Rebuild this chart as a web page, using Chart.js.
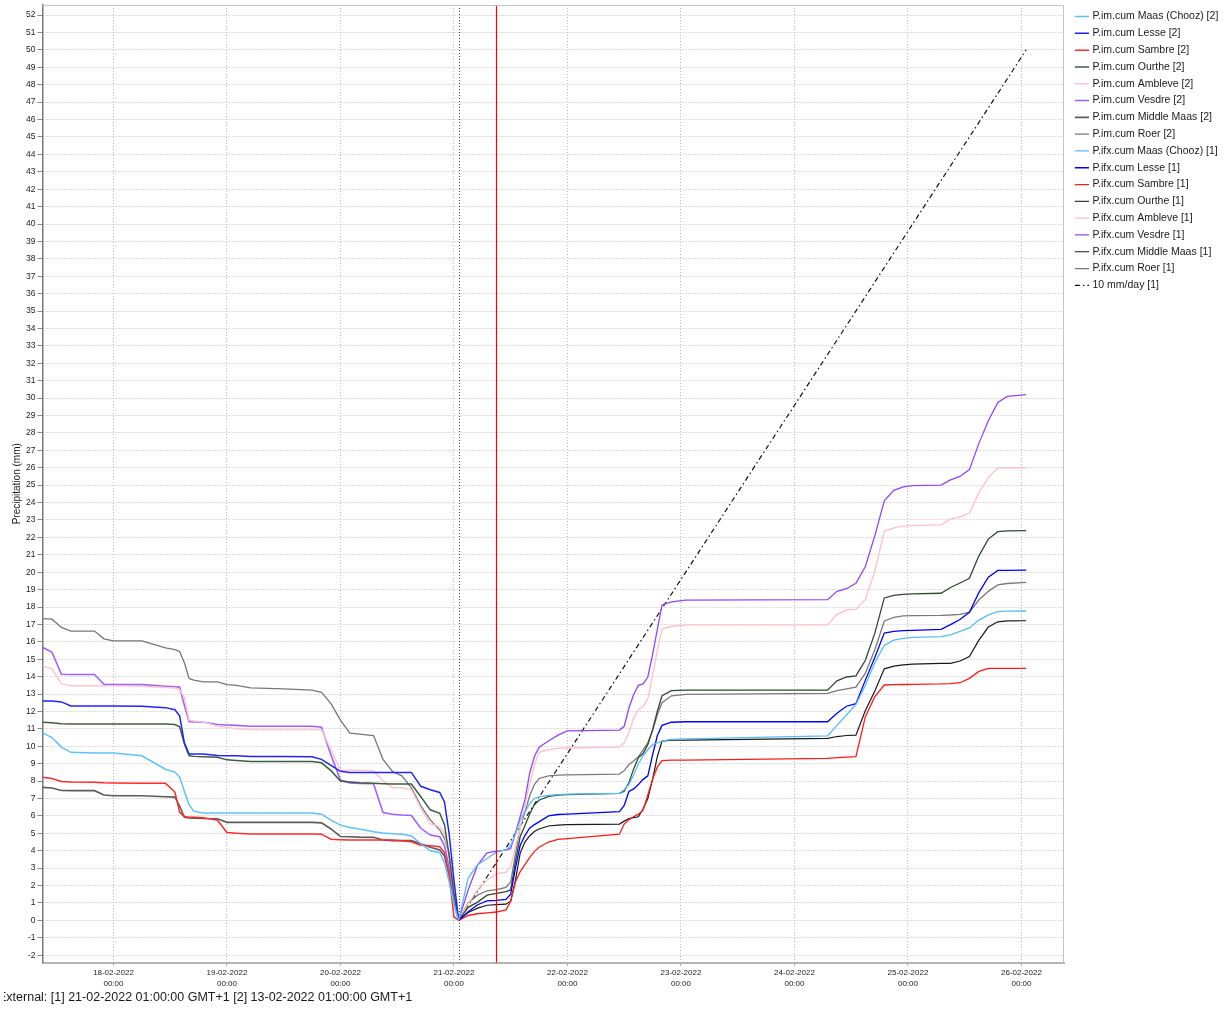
<!DOCTYPE html>
<html>
<head>
<meta charset="utf-8">
<script src="https://cdn.jsdelivr.net/npm/chart.js@4.4.1/dist/chart.umd.min.js"></script>
<style>
html,body{margin:0;padding:0;background:#ffffff;overflow:hidden;}
#wrap{position:relative;width:1230px;height:1009px;overflow:hidden;}
#c{position:absolute;left:0;top:0;}
#extclip{position:absolute;left:4px;top:988px;width:600px;height:20px;overflow:hidden;}
#ext{position:absolute;left:-6px;top:2px;font:12.5px "Liberation Sans",Arial,sans-serif;color:#1a1a1a;white-space:nowrap;}
</style>
</head>
<body>
<div id="wrap">
<canvas id="c" width="1230" height="1009"></canvas>
<div id="extclip"><div id="ext">External: [1] 21-02-2022 01:00:00 GMT+1 [2] 13-02-2022 01:00:00 GMT+1</div></div>
</div>
<script>
// Time axis: hours since 17-02-2022 00:00
const xTickHours = [24, 48, 72, 96, 120, 144, 168, 192, 216];
const xTickDates = ['18-02-2022','19-02-2022','20-02-2022','21-02-2022','22-02-2022','23-02-2022','24-02-2022','25-02-2022','26-02-2022'];
const xTickTime = '00:00';
const forecastStartHour = 97;   // 21-02-2022 01:00
const nowHour = 105;            // 21-02-2022 09:00
const yTickFirst = -2, yTickLast = 52;

// Observed cumulative series [2] (hours)
const hoursObs = [9, 11, 13, 15, 20, 22, 24, 30, 35, 37, 38, 39, 40, 41, 43, 46, 48, 50, 53, 60, 66, 68, 70, 72, 74, 76, 79, 81, 83, 85, 87, 89, 91, 93, 94, 95, 96, 97];
const imMaas       = [10.77,10.5,9.95,9.65,9.62,9.62,9.62,9.45,8.68,8.52,8.23,7.41,6.65,6.26,6.17,6.17,6.17,6.17,6.17,6.17,6.17,6.1,5.76,5.47,5.33,5.25,5.09,5.02,4.98,4.95,4.85,4.4,4.0,3.9,3.3,2.2,0.9,0];
const imLesse      = [12.6,12.6,12.55,12.32,12.32,12.32,12.32,12.3,12.22,12.1,11.75,10.2,9.56,9.56,9.55,9.47,9.46,9.45,9.42,9.42,9.4,9.25,8.9,8.56,8.5,8.5,8.5,8.5,8.5,8.5,8.5,7.7,7.5,7.35,6.8,4.95,2.3,0];
const imSambre     = [8.22,8.15,7.98,7.95,7.93,7.9,7.89,7.88,7.87,7.37,6.2,5.97,5.92,5.92,5.9,5.75,5.05,5.0,4.96,4.96,4.96,4.95,4.66,4.63,4.61,4.61,4.61,4.61,4.61,4.58,4.52,4.32,4.28,4.23,3.9,2.6,0.2,0];
const imOurthe     = [11.38,11.35,11.3,11.28,11.28,11.28,11.28,11.28,11.28,11.25,11.12,10.15,9.45,9.42,9.4,9.37,9.22,9.18,9.12,9.12,9.12,9.05,8.6,8.0,7.95,7.9,7.87,7.85,7.83,7.83,7.83,7.1,6.35,6.15,5.5,3.7,1.5,0];
const imAmbleve    = [14.62,14.45,13.6,13.47,13.47,13.47,13.47,13.45,13.38,13.35,13.25,12.8,11.5,11.45,11.4,11.15,11.1,11.0,10.96,10.96,10.96,10.95,9.8,8.63,8.63,8.63,8.6,8.0,7.62,7.62,7.5,6.45,5.55,5.38,5.0,3.65,1.5,0];
const imVesdre     = [15.69,15.4,14.14,14.12,14.12,13.56,13.54,13.54,13.45,13.42,13.4,12.35,11.42,11.4,11.38,11.25,11.22,11.2,11.15,11.15,11.15,11.1,9.5,8.06,7.9,7.87,7.85,6.2,6.1,6.05,6.02,5.29,4.9,4.8,4.3,3.0,1.3,0];
const imMiddleMaas = [7.64,7.6,7.46,7.45,7.45,7.2,7.16,7.16,7.1,7.08,6.57,5.92,5.88,5.87,5.85,5.84,5.63,5.63,5.63,5.63,5.63,5.6,5.25,4.82,4.8,4.78,4.77,4.62,4.58,4.58,4.58,4.4,4.2,4.05,3.7,2.6,1.0,0];
const imRoer       = [17.33,17.3,16.83,16.62,16.62,16.17,16.06,16.06,15.65,15.55,15.45,14.8,13.9,13.8,13.7,13.7,13.54,13.5,13.36,13.3,13.23,13.1,12.45,11.5,10.75,10.7,10.62,9.25,8.55,8.3,7.61,6.58,5.77,5.19,4.71,3.8,1.4,0];

// Forecast cumulative series [1] (hours)
const hoursFc = [97, 99, 101, 103, 105, 107, 108, 109, 110, 111, 112, 113, 114, 116, 118, 120, 131, 132, 133, 134, 135, 136, 137, 138, 139, 140, 142, 145, 175, 177, 179, 181, 183, 185, 187, 189, 191, 193, 199, 201, 203, 205, 207, 209, 211, 213, 217];
const ifxMaas       = [0,2.43,3.2,3.55,3.92,4.05,4.3,4.96,5.75,6.2,6.7,7.0,7.1,7.18,7.22,7.25,7.3,7.5,7.8,8.35,9.0,9.45,9.8,10.1,10.2,10.3,10.4,10.43,10.6,11.2,11.8,12.4,13.5,14.8,15.8,16.1,16.2,16.25,16.3,16.4,16.6,16.8,17.25,17.55,17.73,17.76,17.77];
const ifxLesse      = [0,0.5,0.9,1.12,1.15,1.2,1.5,3.0,4.3,4.87,5.3,5.5,5.66,6.0,6.08,6.1,6.25,6.6,7.4,7.55,7.8,8.1,8.3,9.5,10.6,11.2,11.38,11.41,11.41,11.9,12.3,12.45,13.8,15.1,16.5,16.6,16.64,16.66,16.72,16.99,17.28,17.7,18.83,19.71,20.1,20.1,20.12];
const ifxSambre     = [0,0.28,0.38,0.43,0.48,0.6,1.1,2.2,2.79,3.2,3.6,3.95,4.2,4.5,4.65,4.7,4.95,5.53,5.78,5.95,6.1,6.33,7.2,8.1,8.8,9.18,9.2,9.2,9.3,9.35,9.38,9.4,11.7,12.85,13.52,13.54,13.55,13.56,13.58,13.6,13.65,13.9,14.3,14.47,14.47,14.47,14.47];
const ifxOurthe     = [0,0.75,1.05,1.45,1.55,1.65,1.75,3.36,4.8,5.43,6.1,6.64,6.9,7.12,7.2,7.22,7.3,7.42,7.9,8.7,9.35,9.58,10.1,10.95,12.0,12.9,13.2,13.22,13.22,13.76,13.98,14.05,14.94,16.5,18.52,18.67,18.72,18.75,18.79,19.12,19.38,19.65,20.94,21.9,22.33,22.37,22.39];
const ifxAmbleve    = [0,0.95,1.76,2.3,2.68,2.75,3.1,4.21,5.3,6.62,7.8,8.9,9.65,9.8,9.88,9.9,9.95,10.2,10.77,11.62,12.1,12.3,12.72,14.07,15.46,16.75,16.88,16.97,16.97,17.58,17.83,17.86,18.44,20.06,22.35,22.55,22.65,22.68,22.72,23.06,23.18,23.4,24.56,25.44,25.98,26.0,26.0];
const ifxVesdre     = [0,1.74,3.17,3.88,3.98,4.03,4.13,5.0,5.95,6.9,8.44,9.4,9.95,10.3,10.64,10.89,10.93,11.15,12.2,12.97,13.5,13.58,13.98,15.26,16.7,18.12,18.3,18.4,18.42,18.9,19.05,19.36,20.33,22.1,24.1,24.7,24.9,24.97,25.0,25.3,25.5,25.89,27.4,28.7,29.75,30.1,30.2];
const ifxMiddleMaas = [0,0.45,0.7,0.87,0.9,0.93,1.1,2.3,3.85,4.5,4.85,5.1,5.25,5.42,5.47,5.5,5.53,5.7,5.85,5.9,5.95,6.4,7.0,8.1,9.4,10.3,10.35,10.35,10.45,10.56,10.62,10.64,12.05,13.18,14.45,14.6,14.68,14.72,14.76,14.76,14.9,15.15,16.1,16.85,17.15,17.2,17.21];
const ifxRoer       = [0,1.0,1.45,1.7,1.77,1.9,2.2,3.8,5.35,6.2,7.14,7.8,8.15,8.3,8.34,8.36,8.4,8.6,8.95,9.15,9.4,9.8,10.2,10.9,11.8,12.5,12.9,12.98,13.04,13.2,13.3,13.4,14.2,15.55,17.2,17.4,17.49,17.5,17.52,17.54,17.58,17.7,18.4,18.9,19.27,19.35,19.42];

// Reference line 10 mm/day
const rateHours = [97, 217];
const rateValues = [0, 50];

function pts(hours, vals) { return hours.map((h, i) => ({ x: h, y: vals[i] })); }

const FONT = '"Liberation Sans", Arial, sans-serif';

const seriesDefs = [
  { label: 'P.im.cum Maas (Chooz) [2]', h: hoursObs, v: imMaas, c: '#5cc1ff', w: 1.5 },
  { label: 'P.im.cum Lesse [2]', h: hoursObs, v: imLesse, c: '#2222ff', w: 1.5 },
  { label: 'P.im.cum Sambre [2]', h: hoursObs, v: imSambre, c: '#ff2a2a', w: 1.5 },
  { label: 'P.im.cum Ourthe [2]', h: hoursObs, v: imOurthe, c: '#3f5f3f', w: 1.5 },
  { label: 'P.im.cum Ambleve [2]', h: hoursObs, v: imAmbleve, c: '#ffc4cf', w: 1.5 },
  { label: 'P.im.cum Vesdre [2]', h: hoursObs, v: imVesdre, c: '#a060ff', w: 1.6 },
  { label: 'P.im.cum Middle Maas [2]', h: hoursObs, v: imMiddleMaas, c: '#5c5c5c', w: 1.6 },
  { label: 'P.im.cum Roer [2]', h: hoursObs, v: imRoer, c: '#777777', w: 1.3 },
  { label: 'P.ifx.cum Maas (Chooz) [1]', h: hoursFc, v: ifxMaas, c: '#55bdfb', w: 1.3 },
  { label: 'P.ifx.cum Lesse [1]', h: hoursFc, v: ifxLesse, c: '#0000ff', w: 1.3 },
  { label: 'P.ifx.cum Sambre [1]', h: hoursFc, v: ifxSambre, c: '#ff1a1a', w: 1.3 },
  { label: 'P.ifx.cum Ourthe [1]', h: hoursFc, v: ifxOurthe, c: '#2f4a2f', w: 1.3 },
  { label: 'P.ifx.cum Ambleve [1]', h: hoursFc, v: ifxAmbleve, c: '#ffbfca', w: 1.3 },
  { label: 'P.ifx.cum Vesdre [1]', h: hoursFc, v: ifxVesdre, c: '#9444ff', w: 1.3 },
  { label: 'P.ifx.cum Middle Maas [1]', h: hoursFc, v: ifxMiddleMaas, c: '#1a1a1a', w: 1.2 },
  { label: 'P.ifx.cum Roer [1]', h: hoursFc, v: ifxRoer, c: '#7a7a7a', w: 1.3 }
];

const datasets = seriesDefs.map(s => ({
  label: s.label,
  data: pts(s.h, s.v),
  borderColor: s.c,
  backgroundColor: s.c,
  borderWidth: s.w,
  pointRadius: 0,
  pointHoverRadius: 0,
  tension: 0,
  fill: false
}));
datasets.push({
  label: '10 mm/day [1]',
  data: pts(rateHours, rateValues),
  borderColor: '#111111',
  backgroundColor: '#111111',
  borderWidth: 1.2,
  borderDash: [5, 3, 1.5, 3],
  pointRadius: 0,
  pointHoverRadius: 0,
  tension: 0,
  fill: false
});

const LEGEND_W = 166;
const LEGEND_LEFT = 1070.4;

const legendFix = {
  id: 'legendFix',
  beforeLayout(chart) {
    const lg = chart.legend;
    if (lg && !lg._fixedWidth) {
      const f = lg.fit;
      lg.fit = function () { f.call(this); this.width = LEGEND_W; };
      lg._fixedWidth = true;
    }
  },
  afterLayout(chart) {
    const lg = chart.legend;
    if (lg) { lg.left = LEGEND_LEFT; lg.right = LEGEND_LEFT + LEGEND_W; }
  }
};

const overlay = {
  id: 'overlay',
  beforeDatasetsDraw(chart) {
    const { ctx, chartArea: a, scales: { x } } = chart;
    const px = Math.round(x.getPixelForValue(forecastStartHour)) + 0.5;
    ctx.save();
    ctx.strokeStyle = '#444444';
    ctx.lineWidth = 1;
    ctx.setLineDash([1, 2]);
    ctx.beginPath();
    ctx.moveTo(px, a.top);
    ctx.lineTo(px, a.bottom);
    ctx.stroke();
    ctx.restore();
  },
  afterDatasetsDraw(chart) {
    const { ctx, chartArea: a, scales: { x } } = chart;
    const px = x.getPixelForValue(nowHour);
    ctx.save();
    ctx.strokeStyle = '#ff0000';
    ctx.lineWidth = 1.2;
    ctx.beginPath();
    ctx.moveTo(px, a.top);
    ctx.lineTo(px, a.bottom);
    ctx.stroke();
    // frame top & right
    ctx.strokeStyle = '#c4c4c4';
    ctx.lineWidth = 1;
    ctx.beginPath();
    ctx.moveTo(a.left, a.top + 0.5);
    ctx.lineTo(a.right - 0.5, a.top + 0.5);
    ctx.lineTo(a.right - 0.5, a.bottom);
    ctx.stroke();
    ctx.restore();
  }
};

new Chart(document.getElementById('c'), {
  type: 'line',
  data: { datasets },
  plugins: [legendFix, overlay],
  options: {
    responsive: false,
    animation: false,
    devicePixelRatio: 1,
    layout: { padding: { top: 5, left: 0, right: 0, bottom: 0 } },
    plugins: {
      legend: {
        position: 'right',
        align: 'start',
        labels: {
          usePointStyle: true,
          pointStyle: 'line',
          boxHeight: 10,
          padding: 6.3,
          color: '#1a1a1a',
          font: { family: FONT, size: 10.5 },
          generateLabels(chart) {
            const items = Chart.defaults.plugins.legend.labels.generateLabels(chart);
            items.forEach(it => {
              const ds = chart.data.datasets[it.datasetIndex];
              it.lineDash = ds.borderDash || [];
              it.lineWidth = ds.borderWidth;
              it.strokeStyle = ds.borderColor;
            });
            return items;
          }
        }
      },
      tooltip: { enabled: false }
    },
    scales: {
      x: {
        type: 'linear',
        min: 9,
        max: 225,
        afterBuildTicks(s) { s.ticks = xTickHours.map(v => ({ value: v })); },
        afterFit(s) { s.height = 46.5; s.paddingLeft = 0; s.paddingRight = 0; },
        ticks: {
          autoSkip: false,
          maxRotation: 0,
          padding: 1.5,
          color: '#222222',
          font: { family: FONT, size: 8, lineHeight: 1.375 },
          callback(v) {
            const i = xTickHours.indexOf(v);
            return i >= 0 ? [xTickDates[i], xTickTime] : '';
          }
        },
        grid: { color: '#bcbcbc', lineWidth: 1, tickLength: 3, tickColor: '#999999' },
        border: { color: '#b4b4b4', width: 2, dash: [1, 2] }
      },
      y: {
        type: 'linear',
        min: -2.42,
        max: 52.58,
        afterBuildTicks(s) {
          const t = [];
          for (let v = yTickFirst; v <= yTickLast; v++) t.push({ value: v });
          s.ticks = t;
        },
        afterFit(s) { s.width = 42.5; s.paddingTop = 0; s.paddingBottom = 0; },
        ticks: {
          padding: 2,
          color: '#222222',
          font: { family: FONT, size: 8.5 },
          callback(v) { return String(v); }
        },
        title: {
          display: true,
          text: 'Precipitation (mm)',
          color: '#1a1a1a',
          font: { family: FONT, size: 10 },
          padding: { top: 11, bottom: 0 }
        },
        grid: { color: '#bcbcbc', lineWidth: 1, tickLength: 5, tickColor: '#888888' },
        border: { color: '#7a7a7a', width: 1.5, dash: [1, 2] }
      }
    }
  }
});
</script>
</body>
</html>
